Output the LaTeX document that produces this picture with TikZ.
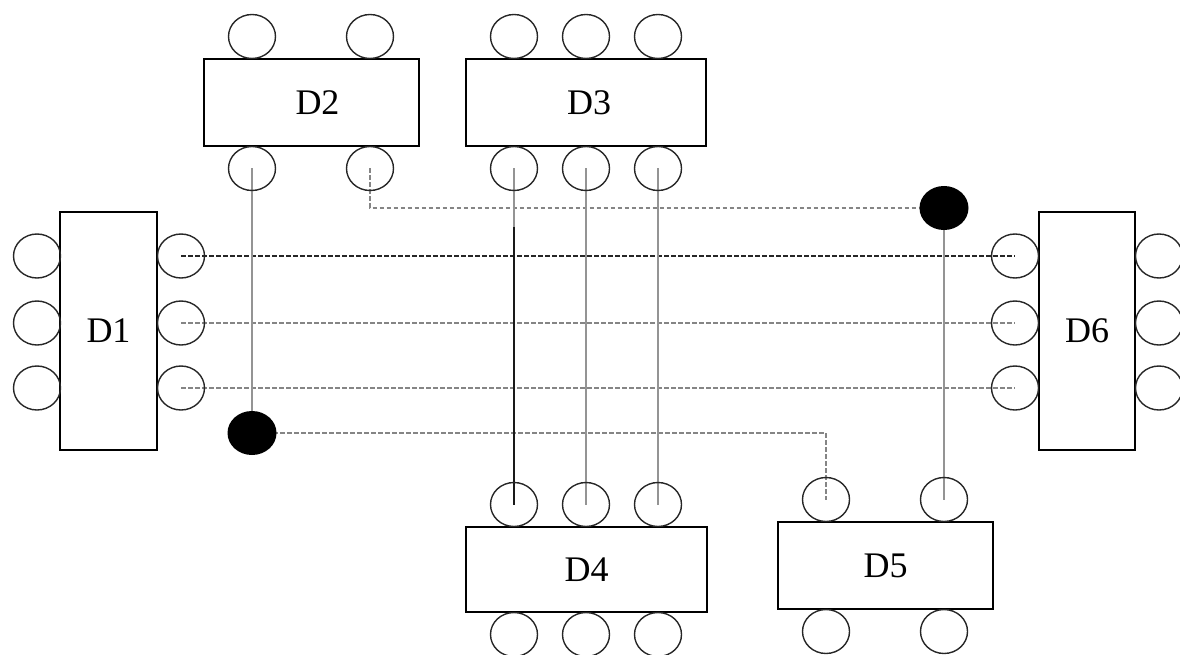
\documentclass[tikz,border=0pt]{standalone}
\usepackage{fontspec}
\setmainfont{Liberation Serif}
\usetikzlibrary{shapes.geometric}
\pgfdeclarelayer{wires}
\pgfsetlayers{wires,main}
\tikzset{
  chip/.style={rectangle, draw=black, line width=1.6pt, inner sep=0pt,
    font=\fontsize{36}{36}\selectfont},
  pin/.style={ellipse, draw=black!85, line width=1.4pt, inner sep=0pt,
    minimum width=47pt, minimum height=44pt},
  junction/.style={ellipse, fill=black, inner sep=0pt,
    minimum width=49pt, minimum height=44pt},
  wire/.style={draw=black!42, line width=2.1pt},
  darkwire/.style={draw=black!90, line width=2pt},
  bus/.style={draw=black!48, line width=2pt, dash pattern=on 4.5pt off 2.5pt},
  darkbus/.style={draw=black!85, line width=2pt, dash pattern=on 4.5pt off 2.5pt},
}
\begin{document}
\begin{tikzpicture}[x=1pt,y=-1pt]
\useasboundingbox (0,0) rectangle (1180,655);

% devices
\node[chip, minimum width=97pt,  minimum height=238pt] (D1) at (108.5,331) {D1};
\node[chip, minimum width=215pt, minimum height=87pt]  (D2) at (311.5,102.5) {\hspace*{12pt}D2};
\node[chip, minimum width=240pt, minimum height=87pt]  (D3) at (586,102.5) {\hspace*{6pt}D3};
\node[chip, minimum width=241pt, minimum height=85pt]  (D4) at (586.5,569.5) {D4};
\node[chip, minimum width=215pt, minimum height=87pt]  (D5) at (885.5,565.5) {D5};
\node[chip, minimum width=96pt,  minimum height=238pt] (D6) at (1087,331) {D6};

% pins of D1 and D6
\foreach \i/\y in {1/256,2/323,3/388} {
  \node[pin] (d1l\i) at (37,\y) {};
  \node[pin] (d1r\i) at (181,\y) {};
  \node[pin] (d6l\i) at (1015,\y) {};
  \node[pin] (d6r\i) at (1159,\y) {};
}
% pins of D2
\foreach \i/\x in {1/252,2/370} {
  \node[pin] (d2t\i) at (\x,36.5) {};
  \node[pin] (d2b\i) at (\x,168.5) {};
}
% pins of D3 and D4
\foreach \i/\x in {1/514,2/586,3/658} {
  \node[pin] (d3t\i) at (\x,36.5) {};
  \node[pin] (d3b\i) at (\x,168.5) {};
  \node[pin] (d4t\i) at (\x,504.5) {};
  \node[pin] (d4b\i) at (\x,634.5) {};
}
% pins of D5
\foreach \i/\x in {1/826,2/944} {
  \node[pin] (d5t\i) at (\x,499.5) {};
  \node[pin] (d5b\i) at (\x,631.5) {};
}

% junctions
\node[junction] (j1) at (252,433) {};
\node[junction] (j2) at (944,208) {};

\begin{pgfonlayer}{wires}
  % D1 -- D6 buses
  \draw[darkbus] (d1r1.center) -- (d6l1.center);
  \draw[bus] (d1r2.center) -- (d6l2.center);
  \draw[bus] (d1r3.center) -- (d6l3.center);
  % D2 connections through the junctions
  \draw[wire] (d2b1.center) -- (j1.center);
  \draw[bus] (d2b2.center) |- (j2.center);
  \draw[wire] (j2.center) -- (d5t2.center);
  \draw[bus] (j1.center) -| (d5t1.center);
  % D3 -- D4 lines
  \path (d3b1.center) -- coordinate[pos=0.174] (split) (d4t1.center);
  \draw[wire] (d3b1.center) -- (split);
  \draw[darkwire] (split) -- (d4t1.center);
  \draw[wire] (d3b2.center) -- (d4t2.center);
  \draw[wire] (d3b3.center) -- (d4t3.center);
\end{pgfonlayer}
\end{tikzpicture}
\end{document}
